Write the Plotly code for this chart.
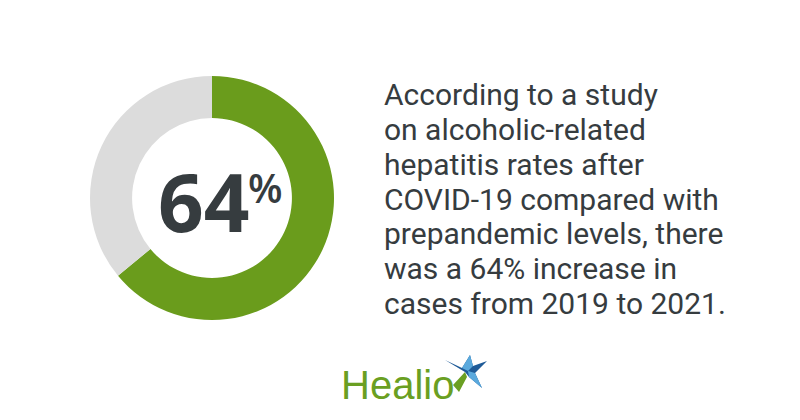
import plotly.graph_objects as go

W, H = 800, 420

# Data
segments = ["Increase", "Remainder"]
values = [64, 36]
seg_colors = ["#6a9c1c", "#dcdcdc"]
big_value = "64"
text_lines = [
    "According to a study",
    "on alcoholic-related",
    "hepatitis rates after",
    "COVID-19 compared with",
    "prepandemic levels, there",
    "was a 64% increase in",
    "cases from 2019 to 2021.",
]

def px(x):
    return x / W

def py(y):
    return 1 - y / H

cx, cy, r = 212, 198, 122

fig = go.Figure()
fig.add_trace(go.Pie(
    labels=segments, values=values, hole=0.655, sort=False,
    direction="clockwise", rotation=0,
    marker=dict(colors=seg_colors, line=dict(width=0)),
    textinfo="none", hoverinfo="skip", showlegend=False,
    domain=dict(x=[px(cx - r), px(cx + r)], y=[py(cy + r), py(cy - r)]),
))

ann = []
dark = "#363c3f"
ann.append(dict(text=big_value, x=px(156), y=py(200), xanchor="left", yanchor="middle",
                font=dict(family="Open Sans", size=80, color=dark, weight=700)))
ann.append(dict(text="%", x=px(246), y=py(187), xanchor="left", yanchor="middle",
                font=dict(family="Open Sans", size=40, color=dark, weight=600)))

base0, pitch = 107, 34.7
for i, line in enumerate(text_lines):
    b = base0 + i * pitch
    ann.append(dict(text=line, x=px(382), y=py(b - 12), xanchor="left", yanchor="middle",
                    font=dict(family="Roboto", size=30, color=dark)))

ann.append(dict(text="Healio", x=px(339), y=py(385), xanchor="left", yanchor="middle",
                font=dict(family="Liberation Sans", size=40, color="#6a9f22")))

for a in ann:
    a.update(xref="paper", yref="paper", showarrow=False)

def path(pts):
    return "M " + " L ".join(f"{px(x)},{py(y)}" for x, y in pts) + " Z"

shapes = [
    # green tail
    dict(type="path", path=path([(465, 372), (467, 377), (459, 392), (453, 385)]),
         fillcolor="#6a9f22", line=dict(width=0)),
    # dark blue star
    dict(type="path", path=path([(445, 360), (462, 368), (470, 355), (473, 366), (487, 361),
                                 (475, 373), (482, 388), (469, 377), (465, 372)]),
         fillcolor="#1f5b98", line=dict(width=0)),
    # light blue facets
    dict(type="path", path=path([(462, 368), (470, 355), (473, 366), (468, 371)]),
         fillcolor="#5aa9dd", line=dict(width=0)),
    dict(type="path", path=path([(468, 371), (475, 373), (482, 388), (469, 377)]),
         fillcolor="#5aa9dd", line=dict(width=0)),
]
for s in shapes:
    s.update(xref="paper", yref="paper")

fig.update_layout(
    width=W, height=H, margin=dict(l=0, r=0, t=0, b=0),
    paper_bgcolor="white", plot_bgcolor="white",
    annotations=ann, shapes=shapes,
)
fig.write_html("out.html")
